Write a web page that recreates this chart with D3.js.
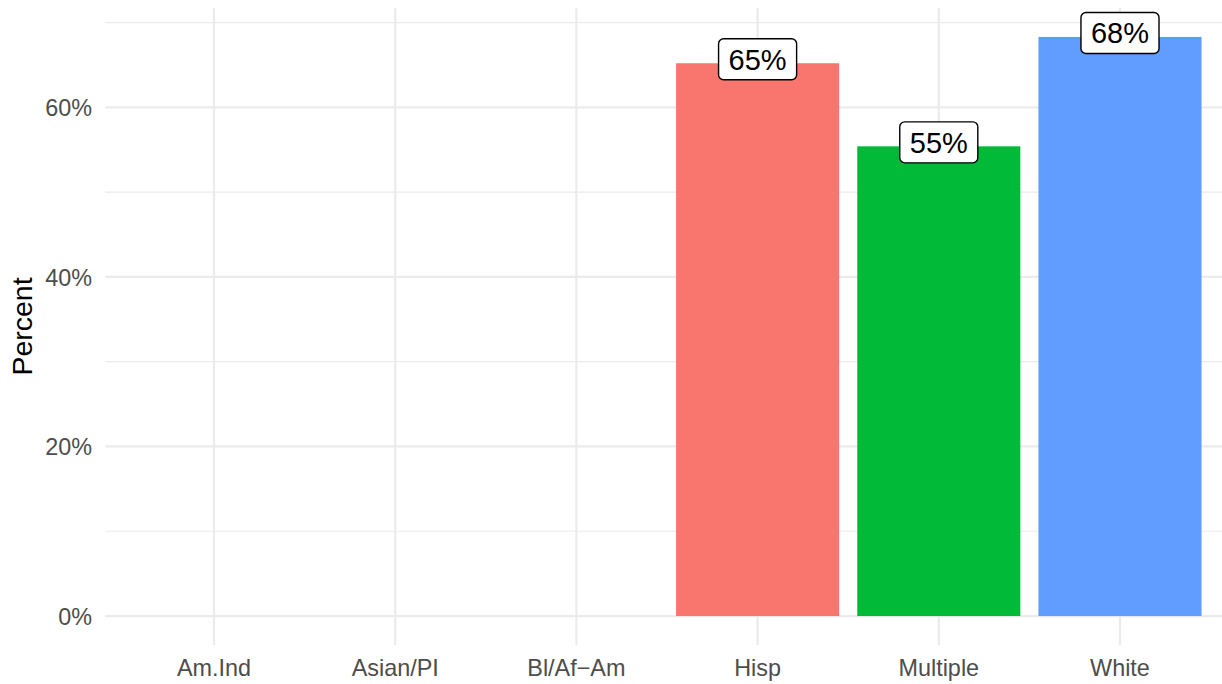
<!DOCTYPE html>
<html>
<head>
<meta charset="utf-8">
<script src="https://cdn.jsdelivr.net/npm/d3@7"></script>
<style>
  body { margin: 0; background: #fff; }
  text { font-family: "Liberation Sans", Arial, sans-serif; }
</style>
</head>
<body>
<div id="main"></div>
<script>
let categories = ["Am.Ind", "Asian/PI", "Bl/Af\u2212Am", "Hisp", "Multiple", "White"];
let values = [null, null, null, 65.2, 55.4, 68.3];
let barLabels = ["", "", "", "65%", "55%", "68%"];
let barColors = ["#F8766D", "#F8766D", "#F8766D", "#F8766D", "#00BA38", "#619CFF"];
let majorTicks = [0, 20, 40, 60];
let minorTicks = [10, 30, 50, 70];

let chartW = 1222, chartH = 684;
let panelL = 105.3, panelR = 1228.7, panelT = 8, panelB = 645;

let svg = d3.select("#main")
    .append("svg")
    .attr("width", chartW)
    .attr("height", chartH);

let data = categories.map((c, i) => ({cat: c, value: values[i], label: barLabels[i], color: barColors[i]}));

let xScale = d3.scaleBand()
    .domain(categories)
    .range([panelL, panelR])
    .paddingInner(0.1)
    .paddingOuter(0.15);

let maxV = d3.max(values);
let pad = maxV * 0.05;
let yScale = d3.scaleLinear()
    .domain([-pad, maxV + pad])
    .range([panelB, panelT]);

// grid
let grid = svg.append("g");
grid.selectAll(".minor").data(minorTicks).enter()
    .append("line")
    .attr("x1", panelL).attr("x2", panelR)
    .attr("y1", d => yScale(d)).attr("y2", d => yScale(d))
    .attr("stroke", "#EBEBEB").attr("stroke-width", 1.2);
grid.selectAll(".major").data(majorTicks).enter()
    .append("line")
    .attr("x1", panelL).attr("x2", panelR)
    .attr("y1", d => yScale(d)).attr("y2", d => yScale(d))
    .attr("stroke", "#EBEBEB").attr("stroke-width", 2.2);
grid.selectAll(".vert").data(categories).enter()
    .append("line")
    .attr("x1", d => xScale(d) + xScale.bandwidth() / 2)
    .attr("x2", d => xScale(d) + xScale.bandwidth() / 2)
    .attr("y1", panelT).attr("y2", panelB)
    .attr("stroke", "#EBEBEB").attr("stroke-width", 2.2);

// bars
let bars = data.filter(d => d.value != null);
svg.selectAll("rect.bar").data(bars).enter()
    .append("rect")
    .attr("class", "bar")
    .attr("x", d => xScale(d.cat))
    .attr("width", xScale.bandwidth())
    .attr("y", d => yScale(d.value))
    .attr("height", d => yScale(0) - yScale(d.value))
    .attr("fill", d => d.color);

// labels
let lab = svg.selectAll("g.lab").data(bars).enter()
    .append("g")
    .attr("transform", d => `translate(${xScale(d.cat) + xScale.bandwidth() / 2},${yScale(d.value) - 4})`);
lab.append("rect");
lab.append("text")
    .attr("text-anchor", "middle")
    .attr("dy", "0.36em")
    .attr("font-size", 29)
    .attr("fill", "#000")
    .text(d => d.label);
lab.each(function() {
    let g = d3.select(this);
    let bb = g.select("text").node().getBBox();
    let w = bb.width + 20, h = 41;
    g.select("rect")
        .attr("x", -w / 2).attr("y", -h / 2)
        .attr("width", w).attr("height", h)
        .attr("rx", 5).attr("ry", 5)
        .attr("fill", "#fff")
        .attr("stroke", "#000")
        .attr("stroke-width", 1.4);
});

// y axis text
svg.selectAll("text.ytick").data(majorTicks).enter()
    .append("text")
    .attr("x", 92)
    .attr("y", d => yScale(d))
    .attr("dy", "0.38em")
    .attr("text-anchor", "end")
    .attr("font-size", 23.4)
    .attr("fill", "#4D4D4D")
    .text(d => d + "%");

// x axis text
svg.selectAll("text.xtick").data(categories).enter()
    .append("text")
    .attr("x", d => xScale(d) + xScale.bandwidth() / 2)
    .attr("y", 676)
    .attr("text-anchor", "middle")
    .attr("font-size", 23.4)
    .attr("fill", "#4D4D4D")
    .text(d => d);

// y title
svg.append("text")
    .attr("transform", `translate(32,${(panelT + panelB) / 2}) rotate(-90)`)
    .attr("text-anchor", "middle")
    .attr("font-size", 28.5)
    .attr("fill", "#000")
    .text("Percent");
</script>
</body>
</html>
